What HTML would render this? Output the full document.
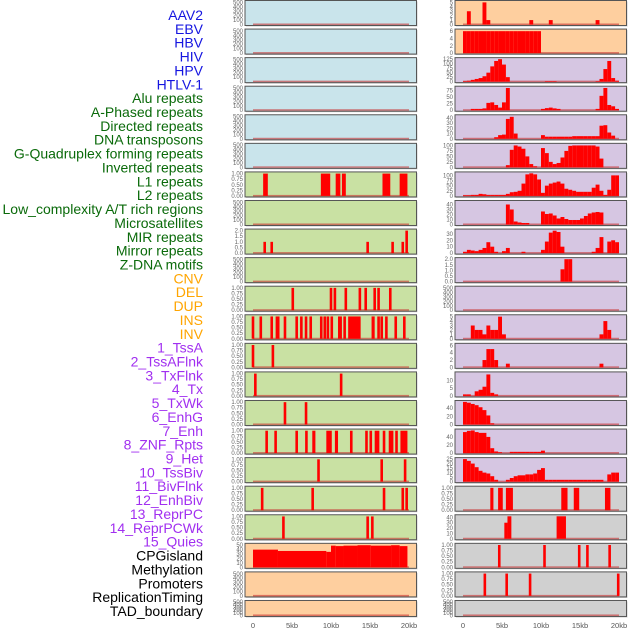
<!DOCTYPE html>
<html><head><meta charset="utf-8">
<style>
html,body{margin:0;padding:0;background:#fff;width:630px;height:630px;overflow:hidden}
svg{display:block}
.lab{font-family:"Liberation Sans",sans-serif;font-size:14px}
.tk{font-family:"Liberation Sans",sans-serif;font-size:6px;fill:#666}
.xt{font-family:"Liberation Sans",sans-serif;font-size:7.5px;fill:#555}
</style></head>
<body>
<svg id="chart" width="630" height="630" viewBox="0 0 630 630"></svg>
<script>
// ---------- data ----------
const trackLabels=["AAV2","EBV","HBV","HIV","HPV","HTLV-1","Alu repeats","A-Phased repeats","Directed repeats","DNA transposons","G-Quadruplex forming repeats","Inverted repeats","L1 repeats","L2 repeats","Low_complexity A/T rich regions","Microsatellites","MIR repeats","Mirror repeats","Z-DNA motifs","CNV","DEL","DUP","INS","INV","1_TssA","2_TssAFlnk","3_TxFlnk","4_Tx","5_TxWk","6_EnhG","7_Enh","8_ZNF_Rpts","9_Het","10_TssBiv","11_BivFlnk","12_EnhBiv","13_ReprPC","14_ReprPCWk","15_Quies","CPGisland","Methylation","Promoters","ReplicationTiming","TAD_boundary"];
const labelGroups=[6,13,5,15,5];
const groupColors=["#1515e0","#0a6a0a","#ffa500","#a12ff0","#000000"];
const xTickValues=[0,5,10,15,20];
const xTickLabels=["0","5kb","10kb","15kb","20kb"];

const leftFill=["#c9e4eb","#c9e4eb","#c9e4eb","#c9e4eb","#c9e4eb","#c9e4eb","#c9e1a3","#c9e1a3","#c9e1a3","#c9e1a3","#c9e1a3","#c9e1a3","#c9e1a3","#c9e1a3","#c9e1a3","#c9e1a3","#c9e1a3","#c9e1a3","#c9e1a3","#fecf9f","#fecf9f","#fecf9f"];
const rightFill=["#fecf9f","#fecf9f","#d6c6e2","#d6c6e2","#d6c6e2","#d6c6e2","#d6c6e2","#d6c6e2","#d6c6e2","#d6c6e2","#d6c6e2","#d6c6e2","#d6c6e2","#d6c6e2","#d6c6e2","#d6c6e2","#d6c6e2","#d0d0d0","#d0d0d0","#d0d0d0","#d0d0d0","#d0d0d0"];
const leftYmax=[520,520,520,520,520,520,1.03,520,2.05,520,1.03,1.03,1.03,1.03,1.03,1.03,1.03,1.03,1.03,52,520,520];
const rightYmax=[5.2,6.3,128,88,44,105,112,46,36,2.05,520,5.2,6.3,15,56,57,25.5,1.03,43,1.03,1.03,520];
const T500=[0,100,200,300,400,500], T1=[0,0.25,0.5,0.75,1], T2=[0,0.5,1,1.5,2];
const leftTicks=[T500,T500,T500,T500,T500,T500,T1,T500,T2,T500,T1,T1,T1,T1,T1,T1,T1,T1,T1,[0,10,20,30,40,50],T500,T500];
const rightTicks=[[0,1,2,3,4,5],[0,2,4,6],[0,25,50,75,100,125],[0,25,50,75],[0,10,20,30,40],[0,25,50,75,100],[0,25,50,75,100],[0,10,20,30,40],[0,10,20,30],T2,T500,[0,1,2,3,4,5],[0,2,4,6],[0,5,10],[0,20,40],[0,20,40],[0,5,10,15,20,25],T1,[0,10,20,30,40],T1,T1,T500];

// left spans [startKb, endKb, value]
const spansL1=[[1.3,1.9,1],[8.7,9.9,1],[10.6,11.2,1],[11.4,11.9,1],[16.6,17.6,1],[18.8,19.8,1]];
const spansDirected=[[1.5,1.5,1],[2.4,2.4,1],[14.7,14.7,1],[17.9,17.9,1],[19.2,19.2,1],[19.7,19.7,2]];
const spansGQuad=[[5.1,5.1,1],[10.0,10.0,1],[10.5,10.5,1],[11.9,11.9,1],[13.7,13.7,1],[14.4,14.5,1],[15.6,15.6,1],[16.1,16.1,1],[17.6,17.6,1]];
const spansInverted=[[0,0,1],[1.0,1.0,1],[2.4,2.4,1],[2.9,3.4,1],[4.1,4.1,1],[5.6,5.6,1],[6.2,6.2,1],[6.8,6.8,1],[7.4,7.4,1],[8.6,8.9,1],[9.2,9.2,1],[9.6,9.6,1],[10.1,10.1,1],[10.9,11.4,1],[11.7,11.8,1],[12.2,13.8,1],[15.2,15.6,1],[16.1,16.1,1],[16.5,16.5,1],[17.1,17.1,1],[18.3,18.3,1],[19.4,19.4,1]];
const spansLowComp=[[0,0,1],[2.5,2.6,1]];
const spansMIR=[[0.3,0.3,1],[11.3,11.3,1]];
const spansZDNA=[[4.1,4.1,1],[6.8,6.8,1]];
const spansDEL=[[1.75,1.75,1],[2.9,2.9,1],[5.6,5.6,1],[6.8,6.9,1],[7.6,8.0,1],[9.4,10.1,1],[10.5,10.9,1],[12.6,12.6,1],[14.5,14.6,1],[15.1,15.1,1],[15.6,16.2,1],[16.8,16.8,1],[17.4,18.0,1],[18.4,18.4,1],[18.9,19.8,1]];
const spansINS=[[8.4,8.4,1],[16.5,16.5,1],[19.5,19.5,1]];
const spansTssA=[[1.15,1.2,1],[7.65,7.65,1],[16.8,16.8,1],[19.2,19.2,1],[19.7,19.7,1]];
const spansTxFlnk=[[3.9,3.9,1],[14.7,14.7,1],[15.3,15.3,1]];
const spansCPG=[[0,3.2,40],[3.2,9.4,37],[9.4,10,35],[10,10.6,49],[10.6,11.6,48],[11.6,13.4,49],[13.4,15.1,50],[15.1,17.7,49],[17.7,18.8,50],[18.8,19.8,48]];
const leftSpans=[[],[],[],[],[],[],spansL1,[],spansDirected,[],spansGQuad,spansInverted,spansLowComp,spansMIR,spansZDNA,spansDEL,spansINS,spansTssA,spansTxFlnk,spansCPG,[],[]];

// right binned values (0.5 kb bins, 40 bins)
const binAAV2=[0,3,0,0,0,5,1,0,0,0,0,0,0,0,0,0,0,1,0,0,0,0,1,0,0,0,0,0,0,0,0,0,0,0,1,0,0,0,0,0];
const binEBV=[6,6,6,6,6,6,6,6,6,6,6,6,6,6,6,6,6,6,6,6,0,0,0,0,0,0,0,0,0,0,0,0,0,0,0,0,0,0,0,0];
const binHIV=[3,5,10,15,20,30,50,85,115,125,95,25,0,0,0,0,0,0,0,0,0,3,3,3,0,0,0,0,0,0,0,0,0,0,3,15,70,115,20,5];
const binHPV=[0,0,5,5,5,7,28,30,20,10,30,85,0,0,0,0,0,0,0,0,5,8,10,7,5,0,0,0,0,0,0,0,0,0,5,55,85,20,15,5];
const binAlu=[0,0,0,0,0,0,0,0,3,7,8,38,42,10,0,0,0,0,0,0,7,4,4,4,4,4,4,4,5,5,5,5,5,5,5,25,26,12,6,0];
const binGQ=[0,0,0,0,0,0,0,0,0,0,0,10,80,100,95,85,50,15,5,0,88,65,25,15,20,45,75,98,100,100,100,100,100,100,95,40,0,0,0,0];
const binL1=[3,3,5,5,10,8,5,5,5,5,5,10,18,20,25,60,105,110,105,80,15,50,60,65,70,60,35,30,25,20,20,20,20,40,55,25,5,30,100,100];
const binLowC=[0,0,0,0,0,0,0,0,0,0,0,40,30,6,4,3,3,0,0,0,26,21,22,18,12,15,11,9,9,9,12,17,22,24,25,24,0,0,0,0];
const binMIR=[2,5,4,3,5,8,17,10,2,0,3,8,0,0,0,2,0,0,0,0,5,18,32,35,33,10,0,0,0,0,0,0,0,2,8,25,0,18,20,17];
const binZDNA=[0,0,0,0,0,0,0,0,0,0,0,0,0,0,0,0,0,0,0,0,0,0,0,0,0,1.1,2,2,0,0,0,0,0,0,0,0,0,0,0,0];
const binEmpty=[0,0,0,0,0,0,0,0,0,0,0,0,0,0,0,0,0,0,0,0,0,0,0,0,0,0,0,0,0,0,0,0,0,0,0,0,0,0,0,0];
const binTssA=[0,0,3,2,2,1,3,2,2,5,1,0,0,0,0,0,0,0,0,0,0,0,0,0,0,0,0,0,0,0,0,0,0,0,0,1,4,2,0,0];
const binTssAFlnk=[0,0,0,0,0,2,5,5,2,0,0,1,0,0,0,0,0,0,0,0,0,0,0,0,0,0,0,0,0,0,0,0,0,0,0,1,0,0,0,0];
const binTxFlnk=[1,1,0,3,4,6,14,2,1,0,0,0,0,0,0,0,0,0,0,0,0,0,0,0,0,0,0,0,0,0,0,0,0,0,0,0,0,0,0,0];
const binTx=[55,53,50,47,42,35,22,3,0,0,0,0,0,0,0,0,0,0,0,0,0,0,0,0,0,0,0,0,0,0,0,0,0,0,0,0,0,0,0,0];
const binTxWk=[52,55,56,52,50,50,40,12,4,2,0,0,3,3,3,3,3,3,3,3,6,0,0,0,0,0,0,0,0,0,0,0,0,0,0,0,0,0,0,0];
const binEnhG=[25,23,20,16,12,10,9,6,2,0,0,2,4,6,7,7,8,8,9,13,15,2,2,2,2,2,2,2,2,2,2,2,2,2,2,2,0,8,10,10];
const spansMethyl=[[3.5,3.9,1],[4.5,5.1,1],[5.5,6.4,1],[12.6,13.4,1],[14.2,14.9,1],[18.2,18.9,1]];
const spansPromoters=[[5.3,5.7,30],[5.7,6.2,42],[12.0,13.2,42]];
const spansRepTiming=[[4.6,4.7,1],[10.4,10.5,1],[14.9,14.9,1],[15.8,16.1,1],[18.8,18.8,1]];
const spansTAD=[[2.8,2.8,1],[5.6,5.6,1],[8.6,8.6,1],[19.9,19.9,1]];
const rightBins=[binAAV2,binEBV,binHIV,binHPV,binAlu,binGQ,binL1,binLowC,binMIR,binZDNA,binEmpty,binTssA,binTssAFlnk,binTxFlnk,binTx,binTxWk,binEnhG,null,null,null,null,binEmpty];
const rightSpans=[null,null,null,null,null,null,null,null,null,null,null,null,null,null,null,null,null,spansMethyl,spansPromoters,spansRepTiming,spansTAD,null];

// ---------- drawing ----------
const NS="http://www.w3.org/2000/svg";
const svg=document.getElementById("chart");
function el(tag,attrs,parent){const e=document.createElementNS(NS,tag);for(const k in attrs)e.setAttribute(k,attrs[k]);(parent||svg).appendChild(e);return e;}
const rowTop=i=>0.5+i*28.57;
const rowH=i=>i===21?16:25;
const colX=[245,455];
const colW=171.5;
const xScale=(col,kb)=>colX[col]+8+kb*7.8;
function fmtTick(t,ticks){
  const mx=ticks[ticks.length-1];
  if(mx===1) return t.toFixed(2);
  if(mx===2) return t.toFixed(1);
  return String(t);
}

// labels
let li=0;
labelGroups.forEach((n,g)=>{
  for(let k=0;k<n;k++){
    const t=el("text",{x:203,y:15+li*13.86+5,"text-anchor":"end",class:"lab",fill:groupColors[g]});
    
    
    t.textContent=trackLabels[li];
    li++;
  }
});

function drawPanel(col,i,fill,ymax,ticks,bars){
  const top=rowTop(i),h=rowH(i),x0=colX[col];
  const g=el("g",{});
  
  
  el("rect",{x:x0+1,y:top+1,width:colW,height:h,fill:"#9a9a9a",opacity:0.5},g);
  el("rect",{x:x0,y:top,width:colW,height:h,fill:fill,stroke:"#555",'stroke-width':1},g);
  const yS=v=>top+h-1-(v/ymax)*(h-2);
  ticks.forEach(t=>{
    const tt=el("text",{x:x0-2,y:yS(t)+2,"text-anchor":"end",class:"tk"},g);
    
    
    tt.textContent=fmtTick(t,ticks);
  });
  // baseline
  el("rect",{x:xScale(col,0),y:top+h-2,width:20*7.8,height:1.5,fill:"#c83030",opacity:0.6},g);
  bars.forEach(b=>{
    if(b[2]<=0) return;
    let xs=xScale(col,b[0]),xe=xScale(col,b[1]);
    if(xe-xs<2.6){const c=(xs+xe)/2;xs=c-1.3;xe=c+1.3;}
    const y=yS(b[2]);
    const r=el("rect",{x:xs,y:y,width:xe-xs,height:top+h-1-y,fill:"#ff0000"},g);
    
    
  });
}
for(let i=0;i<22;i++){
  drawPanel(0,i,leftFill[i],leftYmax[i],leftTicks[i],leftSpans[i]);
  let bars;
  if(rightBins[i]) bars=rightBins[i].map((v,k)=>[k*0.5,(k+1)*0.5,v]);
  else bars=rightSpans[i];
  drawPanel(1,i,rightFill[i],rightYmax[i],rightTicks[i],bars);
}
// x axis
[0,1].forEach(col=>{
  xTickValues.forEach((v,k)=>{
    const t=el("text",{x:xScale(col,v),y:628,"text-anchor":"middle",class:"xt"});
    
    
    t.textContent=xTickLabels[k];
  });
});
</script>
</body></html>
